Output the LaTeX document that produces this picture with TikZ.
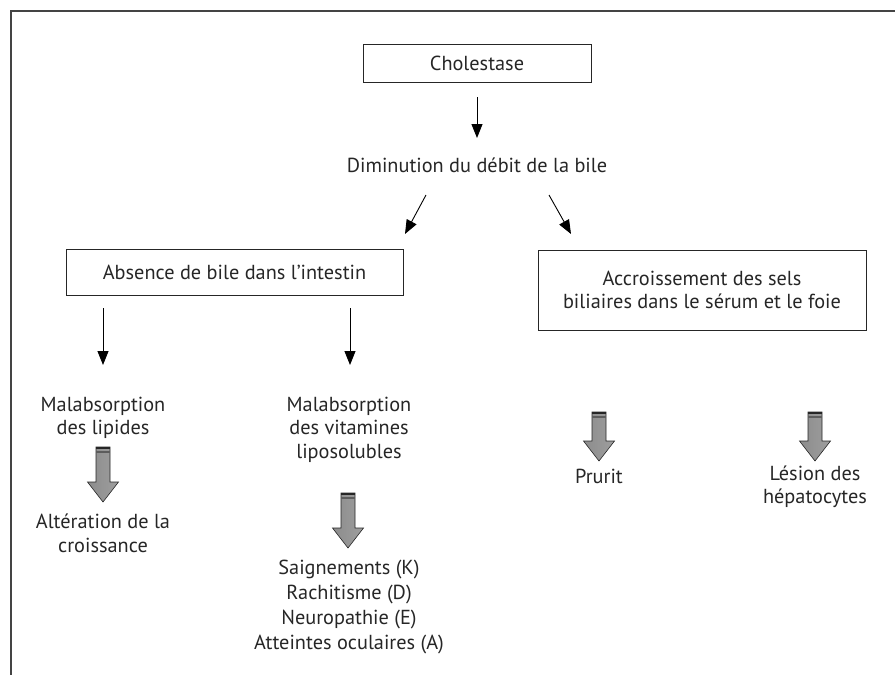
\documentclass[tikz,border=0pt]{standalone}
\usepackage{fontspec}
\setmainfont{PT Sans}
\usetikzlibrary{arrows.meta}
\definecolor{ink}{HTML}{262626}
\definecolor{framec}{HTML}{444444}
\newcommand{\grarrow}[3]{%
  \shadedraw[left color=black!45, middle color=black!5, right color=black!38, draw=ink, line width=0.6pt]
    (#1-7,#2) -- (#1+7,#2) -- (#1+7,#3-20) -- (#1+15.5,#3-20) -- (#1,#3)
    -- (#1-15.5,#3-20) -- (#1-7,#3-20) -- cycle;
  \fill[ink] (#1-7,#2) rectangle (#1+7,#2+2);
  \fill[ink!75] (#1-7,#2+4) rectangle (#1+7,#2+6);
}
\begin{document}
\begin{tikzpicture}[x=1pt,y=-1pt,
  txt/.style={text=ink, align=center, inner sep=0pt, font=\fontsize{20.3}{23.5}\selectfont},
  box/.style={txt, draw=ink, line width=1pt},
  arr/.style={draw=black, line width=0.9pt, -{Triangle[length=14pt,width=11pt]}},
  framel/.style={draw=framec, line width=1.6pt}]
\useasboundingbox (0,0) rectangle (895,675);
% frame
\coordinate (fr1) at (895,11);
\coordinate (fr2) at (11,11);
\coordinate (fr3) at (11,675);
\draw[framel] (fr1) -- (fr2) -- (fr3);
% boxes
\node[box, minimum width=228pt, minimum height=38pt] (chol) at (477,63) {Cholestase};
\node[txt] (dim) at (477,165) {Diminution du débit de la bile};
\node[box, minimum width=337pt, minimum height=46pt] (abs) at (234.5,272.5) {Absence de bile dans l’intestin};
\node[box, minimum width=328pt, minimum height=80pt] (acc) at (702,290) {Accroissement des sels\\biliaires dans le sérum et le foie};
% texts
\node[txt] (mal1) at (103,418) {Malabsorption\\des lipides};
\node[txt] (mal2) at (349,429.5) {Malabsorption\\des vitamines\\liposolubles};
\node[txt] (alt) at (103,533.5) {Altération de la\\croissance};
\node[txt, font=\fontsize{20.3}{25}\selectfont] (vit) at (349,606.5) {Saignements (K)\\Rachitisme (D)\\Neuropathie (E)\\Atteintes oculaires (A)};
\node[txt] (pru) at (599,476) {Prurit};
\node[txt] (les) at (815,487) {Lésion des\\hépatocytes};
% thin arrows
\coordinate (a1s) at (477,97);  \coordinate (a1e) at (477,138);
\coordinate (a2s) at (426,195); \coordinate (a2e) at (405,234);
\coordinate (a3s) at (549,195); \coordinate (a3e) at (571,234);
\coordinate (a4s) at (103,308); \coordinate (a4e) at (103,365);
\coordinate (a5s) at (350,308); \coordinate (a5e) at (350,365);
\draw[arr] (a1s) -- (a1e);
\draw[arr] (a2s) -- (a2e);
\draw[arr] (a3s) -- (a3e);
\draw[arr] (a4s) -- (a4e);
\draw[arr] (a5s) -- (a5e);
% block arrows
\grarrow{103}{447}{502}
\grarrow{348}{493}{548}
\grarrow{599}{412}{461}
\grarrow{815}{412}{461}
\end{tikzpicture}
\end{document}
